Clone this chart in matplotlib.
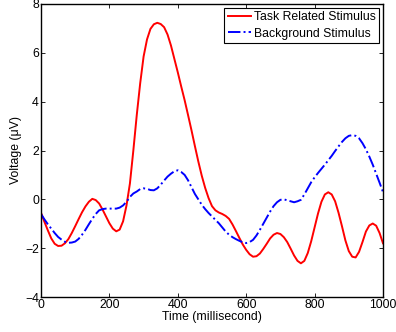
import matplotlib
matplotlib.use("Agg")
import matplotlib.pyplot as plt

plt.rcParams['font.family'] = ['Liberation Sans', 'DejaVu Sans']

time_ms = list(range(0, 1001, 10))
task_related = [-0.55, -0.92, -1.27, -1.60, -1.82, -1.91, -1.90, -1.80, -1.63, -1.38,
                -1.10, -0.81, -0.53, -0.29, -0.10, 0.02, -0.03, -0.17, -0.42, -0.70,
                -0.98, -1.20, -1.31, -1.24, -0.90, -0.25, 0.65, 2.00, 3.45, 4.75,
                5.85, 6.55, 6.98, 7.17, 7.23, 7.18, 7.05, 6.75, 6.30, 5.75,
                5.20, 4.62, 4.06, 3.45, 2.83, 2.18, 1.55, 0.97, 0.47, 0.05,
                -0.28, -0.45, -0.54, -0.60, -0.68, -0.80, -1.03, -1.30, -1.58, -1.85,
                -2.07, -2.25, -2.35, -2.33, -2.22, -2.03, -1.82, -1.60, -1.45, -1.38,
                -1.42, -1.55, -1.75, -2.02, -2.30, -2.52, -2.62, -2.52, -2.20, -1.72,
                -1.15, -0.58, -0.10, 0.20, 0.29, 0.20, -0.08, -0.55, -1.10, -1.68,
                -2.12, -2.35, -2.38, -2.15, -1.75, -1.32, -1.07, -0.99, -1.08, -1.38,
                -1.80]
background = [-0.60, -0.82, -1.02, -1.20, -1.38, -1.54, -1.65, -1.74, -1.78, -1.77,
              -1.73, -1.62, -1.45, -1.25, -1.02, -0.80, -0.60, -0.45, -0.40, -0.38,
              -0.38, -0.38, -0.38, -0.34, -0.25, -0.10, 0.10, 0.24, 0.32, 0.42,
              0.45, 0.43, 0.38, 0.37, 0.45, 0.60, 0.77, 0.93, 1.05, 1.15,
              1.19, 1.12, 1.00, 0.78, 0.50, 0.22, 0.00, -0.22, -0.40, -0.56,
              -0.70, -0.84, -0.98, -1.15, -1.32, -1.45, -1.55, -1.63, -1.70, -1.76,
              -1.79, -1.75, -1.66, -1.48, -1.25, -1.00, -0.75, -0.50, -0.28, -0.12,
              -0.02, 0.00, -0.04, -0.08, -0.12, -0.08, -0.02, 0.20, 0.45, 0.70,
              0.90, 1.08, 1.25, 1.42, 1.60, 1.78, 1.98, 2.17, 2.35, 2.50,
              2.60, 2.63, 2.60, 2.50, 2.30, 2.05, 1.75, 1.42, 1.05, 0.68,
              0.30]
x_ticks = [0, 200, 400, 600, 800, 1000]
y_ticks = [-4, -2, 0, 2, 4, 6, 8]

fig = plt.figure(figsize=(3.96, 3.32), dpi=100)
ax = fig.add_axes([41/396, 35/332, 342/396, 293/332])
ax.plot(time_ms, task_related, color='#ff0000', lw=1.4, label='Task Related Stimulus')
ax.plot(time_ms, background, color='#0000ff', lw=1.4, ls='-.', label='Background Stimulus')
ax.set_xlim(0, 1000)
ax.set_ylim(-4, 8)
ax.set_xticks(x_ticks)
ax.set_yticks(y_ticks)
ax.tick_params(direction='in', top=True, right=True, labelsize=8.8, length=3, width=0.6, pad=1.5)
for s in ax.spines.values():
    s.set_linewidth(1.0)
ax.set_xlabel('Time (millisecond)', fontsize=8.8, labelpad=0)
ax.set_ylabel('Voltage (\u03bcV)', fontsize=8.8, labelpad=2)
leg = ax.legend(loc='upper right', fontsize=8.8, fancybox=False, edgecolor='black',
                framealpha=1, borderpad=0.3, labelspacing=0.35, handlelength=1.9,
                handletextpad=0.2, borderaxespad=0.3)
leg.get_frame().set_linewidth(0.8)
fig.savefig('out.png', dpi=100)
